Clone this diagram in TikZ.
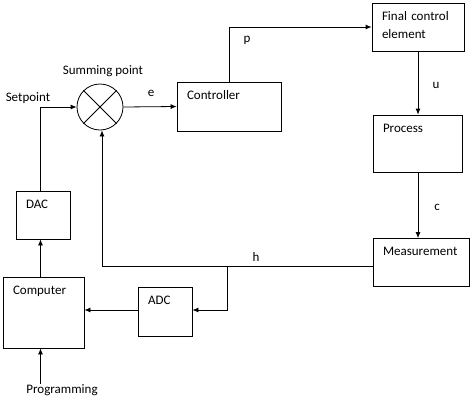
\documentclass[tikz,border=0pt]{standalone}
\usepackage{fontspec}
\setmainfont{Carlito}
\usetikzlibrary{arrows.meta}

\begin{document}
\begin{tikzpicture}[x=1pt,y=-1pt,line width=0.8pt,>={Latex[length=6pt,width=5pt]}]
\tikzstyle{every node}=[font=\fontsize{13}{18}\selectfont]
\tikzstyle{block}=[draw,inner xsep=10pt,inner ysep=0pt,align=left,text height=17pt]
\tikzstyle{lbl}=[inner sep=0pt]
\useasboundingbox (0,0) rectangle (474,402);
% blocks
\node[block,text width=72pt,text depth=31pt] (final) at (418,27) {Final control\\element};
\node[block,text width=69pt,text depth=40pt] (proc) at (417.5,143.5) {Process};
\node[block,text width=76pt,text depth=31pt] (meas) at (421,262.5) {Measurement};
\node[block,text width=84pt,text depth=32pt] (ctrl) at (229,106.5) {Controller};
\node[block,text width=34pt,text depth=31pt] (dac) at (43,215) {DAC};
\node[block,text width=61pt,text depth=54pt] (comp) at (43.5,312.5) {Computer};
\node[block,text width=34pt,text depth=32pt] (adc) at (165,312) {ADC};
\node[draw,circle,minimum size=46pt,inner sep=0pt] (sum) at (100,107) {};
\draw (sum.north west) -- (sum.south east);
\draw (sum.north east) -- (sum.south west);
% texts
\node[lbl] (sp) at (28,98) {Setpoint};
\node[lbl] (sumlbl) at (103,71) {Summing point};
\node[lbl] (prog) at (62,390) {Programming};
\node[lbl] (e) at (151,93) {e};
\node[lbl] (p) at (247,40) {p};
\node[lbl] (u) at (436,85) {u};
\node[lbl] (c) at (437,207) {c};
\node[lbl] (h) at (256,257) {h};
% connections
\coordinate (hb) at (227,266);
\coordinate (cs) at ([xshift=-3pt]comp.south);
\draw[->] (sum.east) -- (ctrl.west);
\draw[->] (ctrl.north) |- (final.west);
\draw[->] (final.south) -- (final.south |- proc.north);
\draw[->] (final.south |- proc.south) -- (final.south |- meas.north);
\draw[->] ([yshift=-3.5pt]meas.west) -| ([xshift=2pt]sum.south);
\draw[->] (hb) |- ([yshift=2pt]adc.east);
\draw[->] ([yshift=2pt]adc.west) -- ([yshift=2pt]adc.west -| comp.east);
\draw[->] ([xshift=-3pt]comp.north) -- ([xshift=-3pt]comp.north |- dac.south);
\draw[->] ([xshift=-3pt]dac.north) |- (sum.west);
\draw[->] (prog.north -| cs) -- (cs);
\end{tikzpicture}
\end{document}
